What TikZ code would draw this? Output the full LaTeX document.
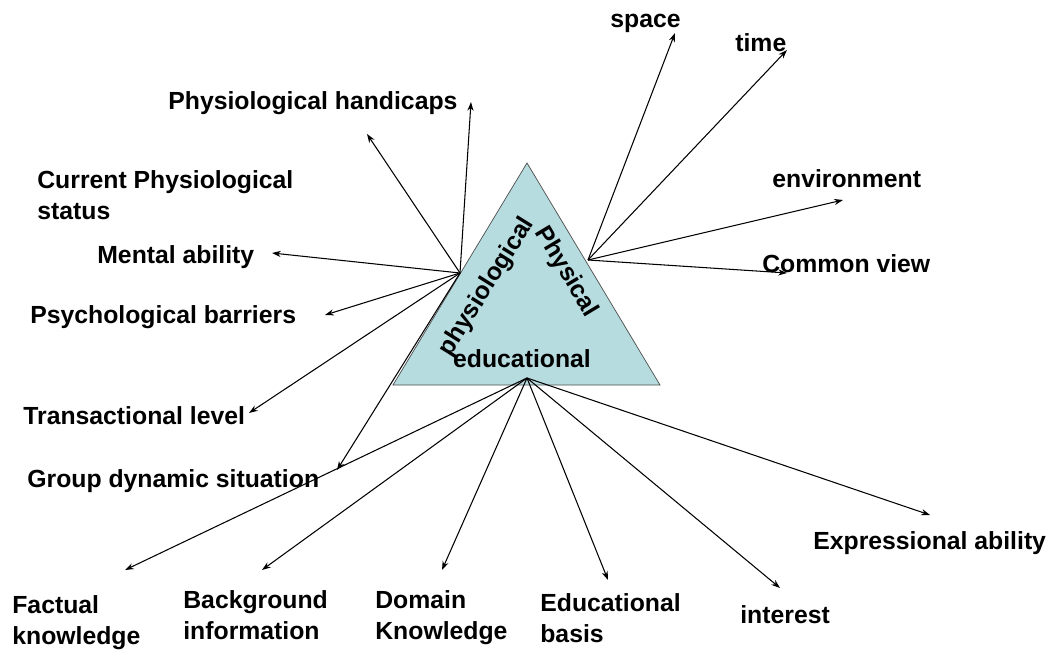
\documentclass[tikz,border=0pt]{standalone}
\usepackage{fontspec}
\newfontfamily\lblfont{Liberation Sans}[UprightFont={* Bold}]
\usetikzlibrary{arrows.meta}
\definecolor{tri-blue}{RGB}{182,220,224}

\begin{document}
\begin{tikzpicture}[x=0.02cm, y=-0.02cm,
      every node/.style={font=\lblfont\fontsize{14.1}{17.6}\selectfont, inner sep=0pt},
      spoke/.style={-{Stealth[length=5pt,width=3.5pt]}, line width=0.6pt},
      lbl/.style={anchor=base west},
      lbl2/.style={anchor=north west, align=left}]
    \useasboundingbox (0,0) rectangle (1049,652);
    % the triangle and its three sides
    \coordinate (top) at (527,163);
    \coordinate (bl) at (393,385);
    \coordinate (br) at (660,385);
    \filldraw[fill=tri-blue, draw=gray!60!black, line width=0.4pt] (top) -- (bl) -- (br) -- cycle;
    \node[rotate=58] (physio-lbl) at (487,287) {physiological};
    \node[rotate=-59] (physic-lbl) at (566,272) {Physical};
    \node (edu-lbl) at (522,359) {educational};
    % hubs
    \coordinate (physio) at (460,273);
    \coordinate (physic) at (588,260);
    \coordinate (edu) at (527,378);

    % labels
    \node[lbl] (space) at (610,28) {space};
    \node[lbl] (time) at (735,52) {time};
    \node[lbl] (environment) at (772,188) {environment};
    \node[lbl] (common) at (762,273) {Common view};
    \node[lbl] (handicaps) at (168,110) {Physiological handicaps};
    \node[lbl2] (status) at (37,170) {Current Physiological\\status};
    \node[lbl] (mental) at (97,263) {Mental ability};
    \node[lbl] (barriers) at (30,323) {Psychological barriers};
    \node[lbl] (transact) at (23,424) {Transactional level};
    \node[lbl] (group) at (27,487) {Group dynamic situation};
    \node[lbl2] (factual) at (12,595) {Factual\\knowledge};
    \node[lbl2] (background) at (183,590) {Background\\information};
    \node[lbl2] (domain) at (375,590) {Domain\\Knowledge};
    \node[lbl2] (basis) at (540,593) {Educational\\basis};
    \node[lbl] (interest) at (740,623) {interest};
    \node[lbl] (expression) at (813,549) {Expressional ability};

    % arrow ends
    \coordinate (space-tip) at (675,33);
    \coordinate (time-tip) at (787,50);
    \coordinate (environment-tip) at (843,200);
    \coordinate (common-tip) at (787,273);
    \coordinate (handicaps-tip) at (471,102);
    \coordinate (status-tip) at (367,134);
    \coordinate (mental-tip) at (272,253);
    \coordinate (barriers-tip) at (325,315);
    \coordinate (transact-tip) at (249,413);
    \coordinate (group-tip) at (337,470);
    \coordinate (factual-tip) at (125,570);
    \coordinate (background-tip) at (262,570);
    \coordinate (domain-tip) at (442,570);
    \coordinate (basis-tip) at (608,580);
    \coordinate (interest-tip) at (780,588);
    \coordinate (expression-tip) at (930,515);

    % physical side
    \draw[spoke] (physic) -- (space-tip);
    \draw[spoke] (physic) -- (time-tip);
    \draw[spoke] (physic) -- (environment-tip);
    \draw[spoke] (physic) -- (common-tip);
    % physiological side
    \draw[spoke] (physio) -- (handicaps-tip);
    \draw[spoke] (physio) -- (status-tip);
    \draw[spoke] (physio) -- (mental-tip);
    \draw[spoke] (physio) -- (barriers-tip);
    \draw[spoke] (physio) -- (transact-tip);
    \draw[spoke] (physio) -- (group-tip);
    % educational side
    \draw[spoke] (edu) -- (factual-tip);
    \draw[spoke] (edu) -- (background-tip);
    \draw[spoke] (edu) -- (domain-tip);
    \draw[spoke] (edu) -- (basis-tip);
    \draw[spoke] (edu) -- (interest-tip);
    \draw[spoke] (edu) -- (expression-tip);
  \end{tikzpicture}
\end{document}
